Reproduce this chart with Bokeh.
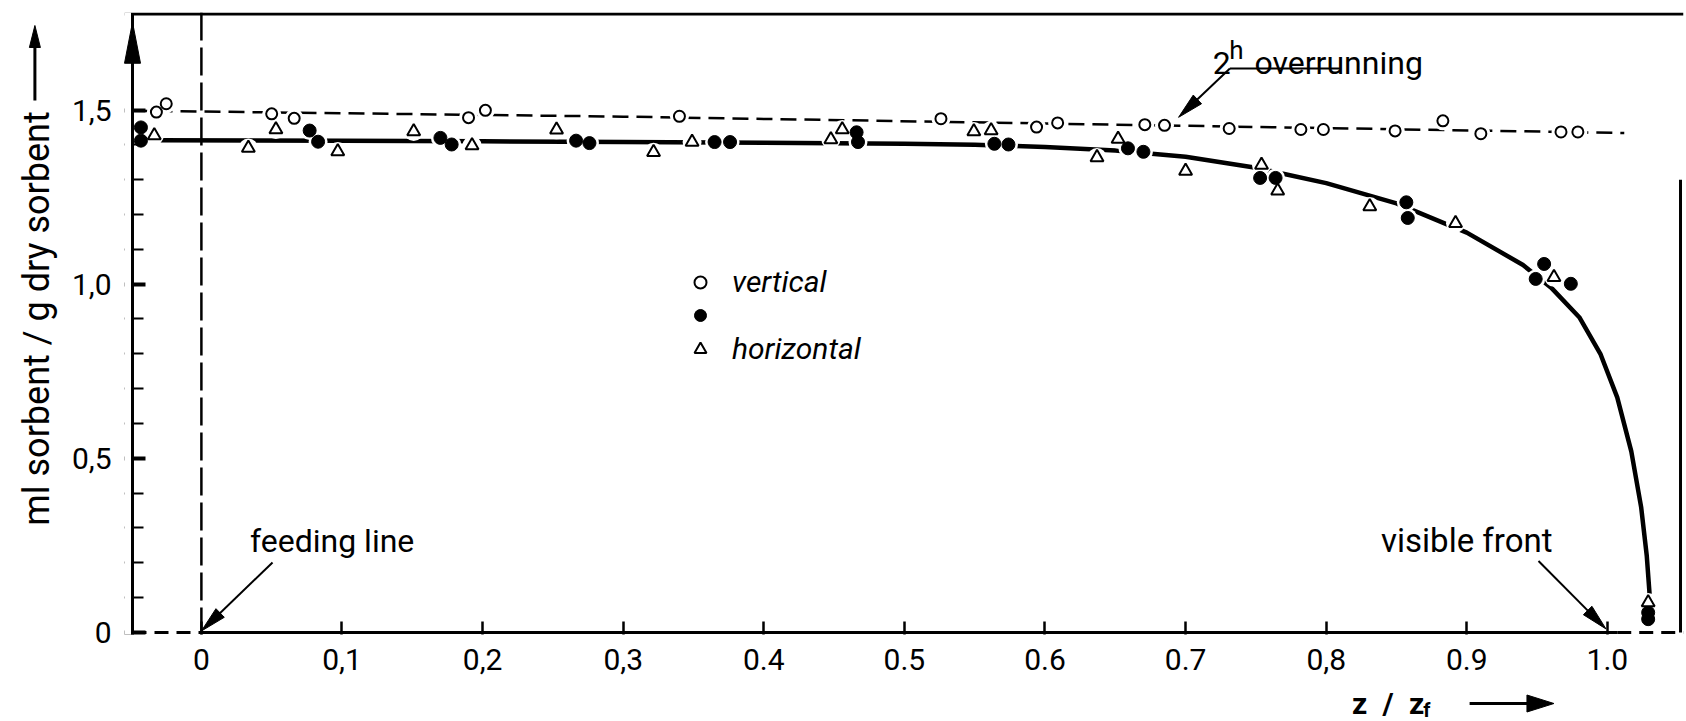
import math
from bokeh.plotting import figure
from bokeh.layouts import row, column
from bokeh.models import (Range1d, FixedTicker, Label, Legend, LegendItem, Span)
from bokeh.embed import file_html
from bokeh.resources import INLINE

# ---------------- data ----------------
open_x = [-0.032, -0.025, 0.050, 0.066, 0.190, 0.202, 0.340, 0.526, 0.594, 0.609,
          0.671, 0.685, 0.731, 0.782, 0.798, 0.849, 0.883, 0.910, 0.967, 0.979]
open_y = [1.494, 1.518, 1.489, 1.476, 1.478, 1.499, 1.482, 1.475, 1.451, 1.463,
          1.458, 1.456, 1.447, 1.444, 1.444, 1.440, 1.469, 1.432, 1.437, 1.437]

filled_x = [-0.043, -0.043, 0.077, 0.083, 0.170, 0.178, 0.2665, 0.276, 0.365, 0.376,
            0.466, 0.467, 0.564, 0.574, 0.659, 0.670, 0.753, 0.764, 0.857, 0.858,
            0.949, 0.955, 0.974, 1.029, 1.029]
filled_y = [1.450, 1.412, 1.441, 1.409, 1.420, 1.401, 1.412, 1.405, 1.408, 1.408,
            1.436, 1.408, 1.403, 1.401, 1.390, 1.380, 1.305, 1.305, 1.235, 1.190,
            1.015, 1.058, 1.001, 0.057, 0.038]

tri_x = [-0.0335, 0.0334, 0.053, 0.097, 0.151, 0.1925, 0.2526, 0.3216, 0.349, 0.4477,
         0.4558, 0.5494, 0.5617, 0.637, 0.652, 0.700, 0.754, 0.7655, 0.831, 0.892,
         0.962, 1.029]
tri_y = [1.427, 1.391, 1.444, 1.381, 1.438, 1.398, 1.443, 1.379, 1.408, 1.415,
         1.444, 1.438, 1.441, 1.364, 1.417, 1.325, 1.342, 1.268, 1.223, 1.175,
         1.020, 0.086]

# fitted curves drawn in the figure
curve_x = [-0.03, 0.1, 0.2, 0.3, 0.4, 0.5, 0.55, 0.6, 0.65, 0.7, 0.75, 0.8, 0.85,
           0.9, 0.94, 0.96, 0.98, 0.995, 1.007, 1.017, 1.024, 1.028, 1.030]
curve_y = [1.413, 1.412, 1.410, 1.408, 1.406, 1.403, 1.400, 1.394, 1.384, 1.366,
           1.334, 1.290, 1.232, 1.148, 1.055, 0.990, 0.905, 0.800, 0.675, 0.520,
           0.360, 0.220, 0.110]
overrun_x = [-0.049, 0.30, 0.65, 1.012]
overrun_y = [1.498, 1.481, 1.458, 1.434]

x_ticks = [0, 0.1, 0.2, 0.3, 0.4, 0.5, 0.6, 0.7, 0.8, 0.9, 1.0]
x_labels = ["0", "0,1", "0,2", "0,3", "0.4", "0.5", "0.6", "0.7", "0,8", "0.9", "1.0"]
y_ticks = [0, 0.5, 1.0, 1.5]
y_labels = ["0", "0,5", "1,0", "1,5"]
y_minor = [0.1, 0.2, 0.3, 0.4, 0.6, 0.7, 0.8, 0.9, 1.1, 1.2, 1.3, 1.4]

# ---------------- layout ----------------
FONT = "Roboto"
LW = 62                       # left strip (y axis title)
MW, MH = 1686 - LW, 685       # main figure
BH = 721 - MH                 # bottom strip (x axis title)
BL, BR, BT, BB = 62, 3, 12, MH - 12 - 622
AXX = -0.049                  # x of the left axis line
X0 = AXX - 8 / 1406.0         # frame starts 8 px left of the axis line
X1 = X0 + (MW - BL - BR) / 1406.0
Y0, Y1 = -0.006, 1.78
Y_TOP = 1.776
SX = (MW - BL - BR) / (X1 - X0)
SY = (MH - BT - BB) / (Y1 - Y0)


def bare(fig):
    fig.grid.visible = False
    fig.outline_line_color = None
    fig.background_fill_color = "white"
    fig.border_fill_color = "white"


def arrow(fig, sx, sy, x0, y0, x1, y1, L, Wd, lw=2, level="glyph"):
    ux, uy = (x1 - x0) * sx, (y1 - y0) * sy
    n = math.hypot(ux, uy)
    ux, uy = ux / n, uy / n
    px, py = -uy, ux
    bx, by = -ux * L, -uy * L
    if lw:
        fig.line([x0, x1 + bx * 0.6 / sx], [y0, y1 + by * 0.6 / sy],
                 line_color="black", line_width=lw, level=level)
    xs = [x1, x1 + (bx + px * Wd / 2) / sx, x1 + (bx - px * Wd / 2) / sx]
    ys = [y1, y1 + (by + py * Wd / 2) / sy, y1 + (by - py * Wd / 2) / sy]
    fig.patch(xs, ys, fill_color="black", line_color="black", line_width=1, level=level)


def lab(fig, x, y, t, size, align="left", base="alphabetic", style="normal", angle=0):
    fig.add_layout(Label(x=x, y=y, text=t, text_font=FONT, text_font_size=size,
                         text_align=align, text_baseline=base, text_font_style=style,
                         text_color="black", angle=angle))


# ---------------- main figure ----------------
p = figure(width=MW, height=MH, x_range=Range1d(X0, X1), y_range=Range1d(Y0, Y1),
           output_backend="svg", toolbar_location=None,
           min_border_left=BL, min_border_right=BR, min_border_top=BT,
           min_border_bottom=BB)
bare(p)

xa = p.xaxis[0]
xa.ticker = FixedTicker(ticks=x_ticks)
xa.major_label_overrides = {t: l for t, l in zip(x_ticks, x_labels)}
xa.axis_line_color = None
xa.major_tick_in = 13
xa.major_tick_out = 0
xa.major_tick_line_width = 2.5
xa.minor_tick_line_color = None
xa.major_label_standoff = 14
xa.major_label_text_font = FONT
xa.major_label_text_font_size = "30px"
xa.major_label_text_color = "black"

ya = p.yaxis[0]
ya.ticker = FixedTicker(ticks=y_ticks, minor_ticks=y_minor)
ya.major_label_overrides = {t: l for t, l in zip(y_ticks, y_labels)}
ya.axis_line_color = None
ya.major_tick_in = 21
ya.major_tick_out = 0
ya.major_tick_line_width = 4
ya.minor_tick_in = 19
ya.minor_tick_out = 0
ya.minor_tick_line_width = 2
ya.major_label_standoff = 13
ya.major_label_text_font = FONT
ya.major_label_text_font_size = "30px"
ya.major_label_text_color = "black"

# frame pieces
p.add_layout(Span(location=Y_TOP, dimension="width", line_color="black", line_width=3))
p.add_layout(Span(location=0, dimension="height", line_color="black", line_width=2.5,
                  line_dash="28 7"))
p.line([0, 1.007], [0, 0], line_color="black", line_width=3)
p.line([AXX, 0], [0, 0], line_color="black", line_width=3, line_dash="14 8")
p.line([1.007, X1], [0, 0], line_color="black", line_width=3, line_dash="14 8")
p.line([1.052, 1.052], [0, 1.3], line_color="black", line_width=3)

# curves
p.line(curve_x, curve_y, line_color="black", line_width=4.5)
p.line(overrun_x, overrun_y, line_color="black", line_width=2.5, line_dash="16 8")

# white halos that break the lines around the symbols
p.scatter(open_x + filled_x + tri_x, open_y + filled_y + tri_y, marker="circle",
          size=19, fill_color="white", line_color=None)

open_r = p.scatter(open_x, open_y, marker="circle", size=11, fill_color="white",
                   line_color="black", line_width=2)
filled_r = p.scatter(filled_x, filled_y, marker="circle", size=13, fill_color="black",
                     line_color="black")
tri_r = p.scatter(tri_x, tri_y, marker="triangle", size=13, fill_color="white",
                  line_color="black", line_width=2)

legend = Legend(items=[LegendItem(label="vertical", renderers=[open_r]),
                       LegendItem(label=" ", renderers=[filled_r]),
                       LegendItem(label="horizontal", renderers=[tri_r])],
                location=(561, 268), padding=0, margin=0, spacing=0,
                glyph_width=30, glyph_height=32, label_height=32, label_standoff=17,
                border_line_color=None, background_fill_alpha=0,
                label_text_font=FONT, label_text_font_style="italic",
                label_text_font_size="30px", label_text_color="black")
p.add_layout(legend, "center")

# left axis line (drawn over the tick roots) with its arrow head
p.quad(left=X0, right=AXX - 1.5 / SX, bottom=Y0, top=Y1, fill_color="white",
       line_color=None, level="overlay")
p.line([AXX, AXX], [Y0, Y_TOP], line_color="black", line_width=3, level="overlay")
arrow(p, SX, SY, AXX, 1.6, AXX, 1.752, 41, 16, lw=0, level="overlay")

# annotations inside the frame
arrow(p, SX, SY, 0.0506, 0.2006, 0.0, 0.004, 26, 12)
arrow(p, SX, SY, 0.951, 0.205, 0.999, 0.010, 26, 12)
p.line([0.81, 0.7315], [1.619, 1.619], line_color="black", line_width=2)
arrow(p, SX, SY, 0.7315, 1.619, 0.695, 1.479, 26, 12)

lab(p, 0.093, 0.263, "feeding line", "32px", "center", "middle")
lab(p, 0.900, 0.263, "visible front", "33px", "center", "middle")
lab(p, 0.7194, 1.636, "2", "32px")
lab(p, 0.731, 1.671, "h", "26px")
lab(p, 0.749, 1.636, "overrunning", "32px")

# ---------------- left strip: y axis title ----------------
pl = figure(width=LW, height=721, x_range=Range1d(0, LW), y_range=Range1d(721, 0),
            output_backend="svg", toolbar_location=None, x_axis_type=None,
            y_axis_type=None, min_border=0)
bare(pl)
lab(pl, 36, 318, "ml sorbent / g dry sorbent", "36px", "center", "middle",
    angle=math.pi / 2)
arrow(pl, 1, -1, 34.4, 100, 34.4, 25, 22, 11, lw=3)

# ---------------- bottom strip: x axis title ----------------
pb = figure(width=MW, height=BH, x_range=Range1d(X0, X1), y_range=Range1d(BH, 0),
            output_backend="svg", toolbar_location=None, x_axis_type=None,
            y_axis_type=None, min_border_left=BL, min_border_right=BR,
            min_border_top=0, min_border_bottom=0)
bare(pb)
lab(pb, 0.844, 18, "z\u2002/\u2002z", "30px", "center", "middle", "bold")
lab(pb, 0.869, 24, "f", "20px", "left", "middle", "bold")
arrow(pb, SX, -1, 0.902, 18, 0.962, 18, 27, 17, lw=3)

layout = row(pl, column(p, pb))
open("out.html", "w").write(file_html(layout, INLINE))
